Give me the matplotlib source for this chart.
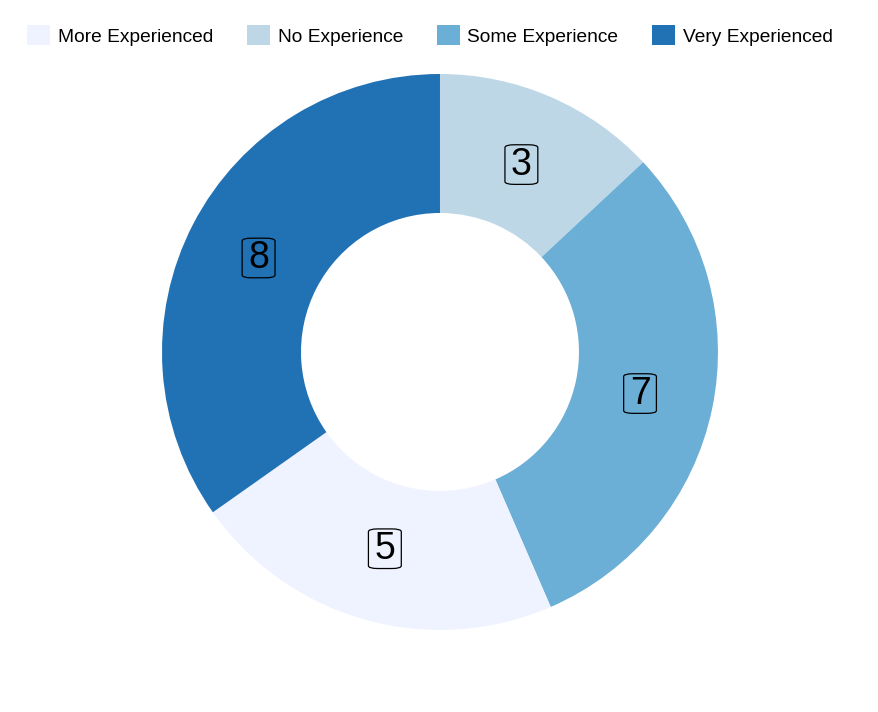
import matplotlib
matplotlib.use("Agg")
import matplotlib.pyplot as plt
from matplotlib.patches import Patch

plt.rcParams['font.family'] = ['Liberation Sans', 'DejaVu Sans']

# slices, clockwise from 12 o'clock
labels = ['No Experience', 'Some Experience', 'More Experienced', 'Very Experienced']
counts = [3, 7, 5, 8]
colors = ['#BDD7E7', '#6BAED6', '#EFF3FF', '#2171B5']

# legend order
legend_order = ['More Experienced', 'No Experience', 'Some Experience', 'Very Experienced']

fig = plt.figure(figsize=(8.79, 7.12), dpi=100)
ax = fig.add_axes([0.1843, 0.1152, 0.6325, 0.7809])

wedges, texts = ax.pie(counts, colors=colors, startangle=90, counterclock=False,
                       radius=1, wedgeprops=dict(width=0.5, linewidth=0),
                       labels=[str(c) for c in counts], labeldistance=0.735,
                       textprops=dict(fontsize=27, ha='center', va='center'))
for t in texts:
    t.set_bbox(dict(boxstyle='round,pad=0.16,rounding_size=0.25', mutation_aspect=0.3,
                    facecolor='none', edgecolor='black', linewidth=0.9))
ax.set_xlim(-1, 1)
ax.set_ylim(-1, 1)
ax.set_aspect('equal')
ax.axis('off')

handles = [Patch(facecolor=colors[labels.index(n)], edgecolor='none') for n in legend_order]
fig.legend(handles, legend_order, loc='upper left', bbox_to_anchor=(0.022, 0.975),
           ncol=4, frameon=False, fontsize=13.8, handlelength=1.2, handleheight=1.2,
           handletextpad=0.4, columnspacing=1.77, borderaxespad=0)

fig.savefig('out.png', dpi=100, facecolor='white')
